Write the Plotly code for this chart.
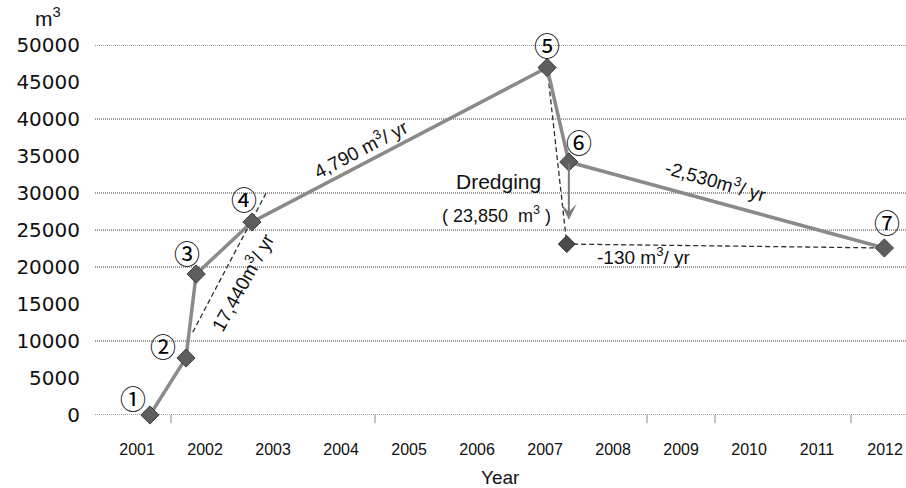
import plotly.graph_objects as go

# Survey dates (decimal years) and accumulated sediment volume (m3)
survey_year = [2001.19, 2001.72, 2001.87, 2002.69, 2007.03, 2007.35, 2011.99]
volume = [0, 7700, 19050, 26080, 46950, 34190, 22570]
point_labels = ["①", "②", "③", "④", "⑤", "⑥", "⑦"]

# Dredging removed between survey ⑤ and ⑥
dredged_volume = 23850
dredged_year = 2007.32
arrow_tip = 26400

# Early accumulation trend (m3/yr)
trend_rate = 17440
trend_years = [2001.82, 2002.91]
trend_start = 11200

year_ticks = list(range(2001, 2013))
volume_ticks = list(range(0, 50001, 5000))
grid_levels = [0, 10000, 20000, 25000, 30000, 40000, 50000]
minor_ticks = [2001.5, 2004.5, 2008.5, 2009.5, 2011.5]

after_dredge = volume[4] - dredged_volume
trend_values = [trend_start + trend_rate * (y - trend_years[0]) for y in trend_years]

FONT = "Liberation Sans, Arial, sans-serif"
CJK = "Noto Sans CJK JP"
DASH = dict(color="#2e2e2e", width=1.3, dash="5px,3px")

fig = go.Figure()

# Trend line through early surveys
fig.add_trace(go.Scatter(x=trend_years, y=trend_values, mode="lines",
                         line=DASH, hoverinfo="skip", cliponaxis=False))
# Drop from ⑤ to post-dredging level, then trend to ⑦
fig.add_trace(go.Scatter(x=[survey_year[4], dredged_year, survey_year[6]],
                         y=[volume[4], after_dredge, volume[6]],
                         mode="lines", line=DASH, hoverinfo="skip",
                         cliponaxis=False))
# Main survey series
fig.add_trace(go.Scatter(x=survey_year, y=volume, mode="lines+markers",
                         line=dict(color="#8a8a8a", width=3.5),
                         marker=dict(symbol="diamond", size=14, color="#5e5e5e",
                                     line=dict(color="#3c3c3c", width=1)),
                         cliponaxis=False))
# Post-dredging point
fig.add_trace(go.Scatter(x=[dredged_year], y=[after_dredge], mode="markers",
                         marker=dict(symbol="diamond", size=13, color="#4a4a4a",
                                     line=dict(color="#2e2e2e", width=1)),
                         cliponaxis=False))

shapes = []
for lvl in grid_levels:
    shapes.append(dict(type="line", xref="paper", x0=0, x1=1, yref="y",
                       y0=lvl, y1=lvl,
                       line=dict(color="#3a3a3a", width=1, dash="1px,1px"),
                       layer="below"))
for t in minor_ticks:
    shapes.append(dict(type="line", xref="x", x0=t, x1=t, yref="paper",
                       y0=0, y1=-0.022, line=dict(color="#888888", width=1)))

ann = []
offsets = [(-17, 18), (-23, 13), (-9, 22), (-8, 24), (0, 23), (10, 20), (3, 26)]
for x, y, lab, (dx, dy) in zip(survey_year, volume, point_labels, offsets):
    ann.append(dict(x=x, y=y, text=lab, showarrow=False, xshift=dx, yshift=dy,
                    font=dict(family=CJK, size=26, color="#000000")))

def label(x, y, text, size=18, angle=0):
    ann.append(dict(x=x, y=y, text=text, showarrow=False, textangle=angle,
                    font=dict(family=FONT, size=size, color="#111111")))

label(2004.29, 36080, "4,790 m<sup>3</sup>/ yr", 19, -27.6)
label(2002.54, 17970, "17,440m<sup>3</sup>/ yr", 19, -61)
label(2009.51, 31760, "-2,530m<sup>3</sup>/ yr", 19, 16)
label(2008.46, 21490, "-130 m<sup>3</sup>/ yr", 19)
label(2006.31, 31620, "Dredging", 21)
label(2006.28, 27030, "( 23,850  m<sup>3</sup> )", 18)

# Arrow from ⑥ downward
ann.append(dict(x=survey_year[5], y=arrow_tip, ax=survey_year[5], ay=volume[5],
                axref="x", ayref="y", xref="x", yref="y", text="",
                showarrow=True, arrowhead=3, arrowsize=1.3, arrowwidth=2,
                arrowcolor="#7a7a7a"))

# Axis unit and title
ann.append(dict(xref="paper", yref="paper", x=-0.04, y=1.035, xanchor="right",
                yanchor="bottom", text="m<sup>3</sup>", showarrow=False,
                font=dict(family=FONT, size=21, color="#111111")))
ann.append(dict(xref="paper", yref="paper", x=0.5, y=-0.170, xanchor="center",
                yanchor="middle", text="Year", showarrow=False,
                font=dict(family=FONT, size=19, color="#111111")))

fig.update_layout(
    width=906, height=488,
    margin=dict(l=95, r=0, t=45, b=73),
    plot_bgcolor="white", paper_bgcolor="white",
    showlegend=False,
    shapes=shapes, annotations=ann,
    xaxis=dict(range=[2000.382, 2012.308], tickvals=year_ticks,
               ticktext=[str(y) for y in year_ticks],
               showgrid=False, zeroline=False, showline=False,
               ticks="outside", ticklen=20, tickcolor="rgba(0,0,0,0)",
               tickfont=dict(family=FONT, size=16, color="#111111")),
    yaxis=dict(range=[0, 50000], tickvals=volume_ticks,
               ticktext=[str(v) for v in volume_ticks],
               showgrid=False, zeroline=False, showline=False,
               ticks="outside", ticklen=10, tickcolor="rgba(0,0,0,0)",
               tickfont=dict(family="DejaVu Sans", size=20, color="#111111")),
)

fig.write_html("out.html")
